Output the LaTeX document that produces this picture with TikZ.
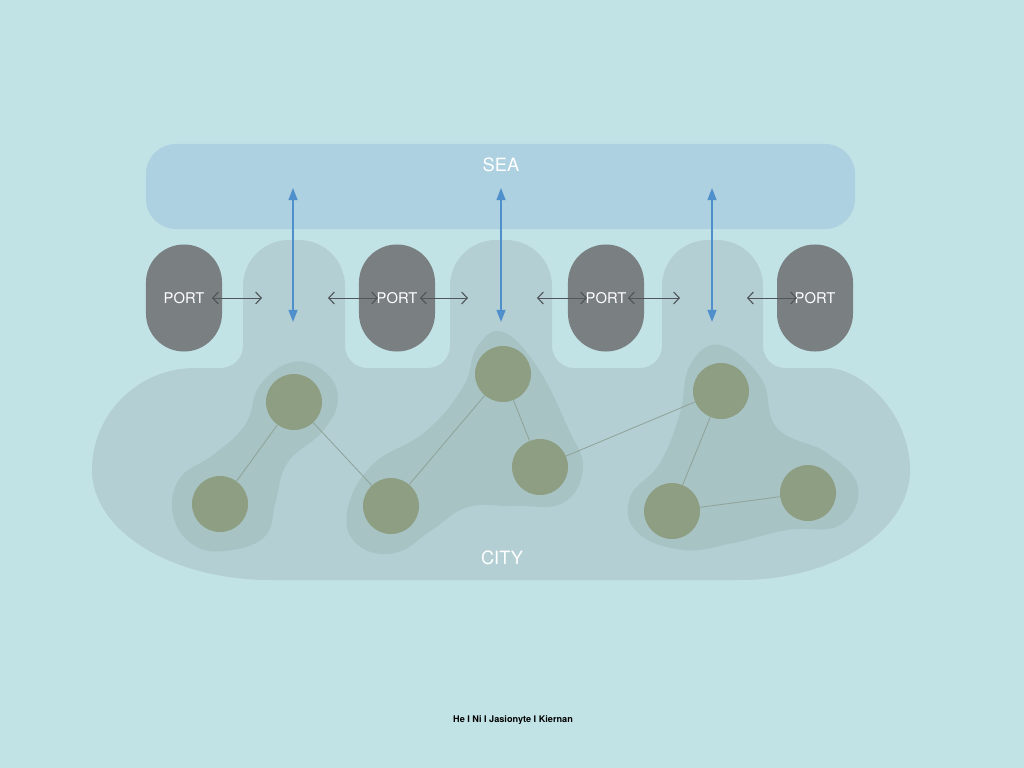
\documentclass[tikz,border=0pt]{standalone}
\usepackage{fontspec}
\setmainfont{TeX Gyre Heros}
\usetikzlibrary{arrows.meta,positioning}
\definecolor{bgcol}{HTML}{C2E3E6}
\definecolor{seacol}{HTML}{ADD1E0}
\definecolor{citycol}{HTML}{B4CFD4}
\definecolor{clustcol}{HTML}{A8C3C4}
\definecolor{towncol}{HTML}{8E9E82}
\definecolor{portcol}{HTML}{7A7F82}
\definecolor{bluecol}{HTML}{4F8FCB}
\definecolor{arrgray}{HTML}{50565A}
\definecolor{linkcol}{HTML}{8FA399}

\begin{document}
\begin{tikzpicture}[
  x=0.025cm, y=-0.025cm,
  font=\fontsize{10.5}{12}\selectfont,
  port/.style={fill=portcol, rounded corners=0.95cm, minimum width=1.9cm, minimum height=2.675cm,
               text=white, inner sep=0pt},
  seabox/.style={fill=seacol, rounded corners=0.75cm, minimum width=17.725cm, minimum height=2.125cm,
                 inner sep=0pt},
  town/.style={circle, fill=towncol, minimum size=1.4cm, inner sep=0pt},
  clust/.style={fill=clustcol},
  link/.style={draw=linkcol, line width=0.6pt},
  bigtxt/.style={text=white, font=\fontsize{13}{15}\selectfont},
  ar/.style={draw=arrgray, line width=0.6pt,
             {Straight Barb[length=1.4mm,width=3mm,line width=0.8pt]}-{Straight Barb[length=1.4mm,width=3mm,line width=0.8pt]}},
  seaar/.style={draw=bluecol, line width=1.1pt,
                {Triangle[length=3mm,width=2.2mm]}-{Triangle[length=3mm,width=2.2mm]}},
]
\fill[bgcol] (0,0) rectangle (1024,768);
\useasboundingbox (0,0) rectangle (1024,768);

%% ---------- sea ----------
\node[seabox] (sea) at (500.5,186.5) {};
\node[bigtxt] (sealab) at (501,165) {SEA};

%% ---------- city ----------
\fill[citycol] (270,580) .. controls (172,580) and (92,531) .. (92,470)
  .. controls (92,414) and (138,368) .. (195,368)
  [rounded corners=0.55cm] -- (243,368)
  [rounded corners=1.15cm] -- (243,240) -- (345,240)
  [rounded corners=0.55cm] -- (345,368) -- (450,368)
  [rounded corners=1.15cm] -- (450,240) -- (552,240)
  [rounded corners=0.55cm] -- (552,368) -- (662,368)
  [rounded corners=1.15cm] -- (662,240) -- (763,240)
  [rounded corners=0.55cm] -- (763,368) -- (805,368)
  [sharp corners] .. controls (862,368) and (910,414) .. (910,470)
  .. controls (910,531) and (834,580) .. (740,580) -- cycle;
\node[bigtxt] (citylab) at (502,558) {CITY};

% clusters
\fill[clust] plot[smooth cycle, tension=0.7] coordinates {
  (293,362) (325,372) (338,400) (322,432) (288,462) (276,500) (266,535)
  (232,550) (195,546) (173,515) (180,478) (213,455) (245,425) (260,385)};
\fill[clust] plot[smooth cycle, tension=0.7] coordinates {
  (503,332) (538,368) (568,428) (583,468) (563,503) (515,506) (468,507)
  (432,530) (395,553) (358,545) (347,512) (372,465) (425,432) (463,387) (477,347)};
\fill[clust] plot[smooth cycle, tension=0.7] coordinates {
  (720,345) (761,378) (777,428) (827,453) (858,487) (840,525) (787,530)
  (733,543) (683,550) (637,532) (630,497) (660,463) (680,413) (690,365)};

\foreach \n/\x/\y in {c1/294/402, c2/220/504, c3/503/374, c4/391/506,
                      c5/540/467, c6/721/391, c7/672/511, c8/808/493}
  \node[town] (\n) at (\x,\y) {};
\foreach \a/\b in {c1/c2, c1/c4, c4/c3, c3/c5, c5/c6, c6/c7, c7/c8}
  \draw[link] (\a) -- (\b);

%% ---------- ports ----------
\foreach \i/\x in {1/184, 2/397, 3/606, 4/815}
  \node[port] (port\i) at (\x,298) {PORT};

\foreach \n/\xa/\xb in {a/212/262, b/328/378, c/420/468, d/537/587, e/628/680, f/747/797}{
  \coordinate (\n l) at (\xa,298);
  \coordinate (\n r) at (\xb,298);
  \draw[ar] (\n l) -- (\n r);
}

\foreach \i/\x in {1/293, 2/501, 3/712}{
  \coordinate (up\i) at (\x,188);
  \coordinate (dn\i) at (\x,322);
  \draw[seaar] (up\i) -- (dn\i);
}

\node[font=\bfseries\fontsize{6.5}{8}\selectfont] (credit) at (513,720) {He I Ni I Jasionyte I Kiernan};
\end{tikzpicture}
\end{document}
